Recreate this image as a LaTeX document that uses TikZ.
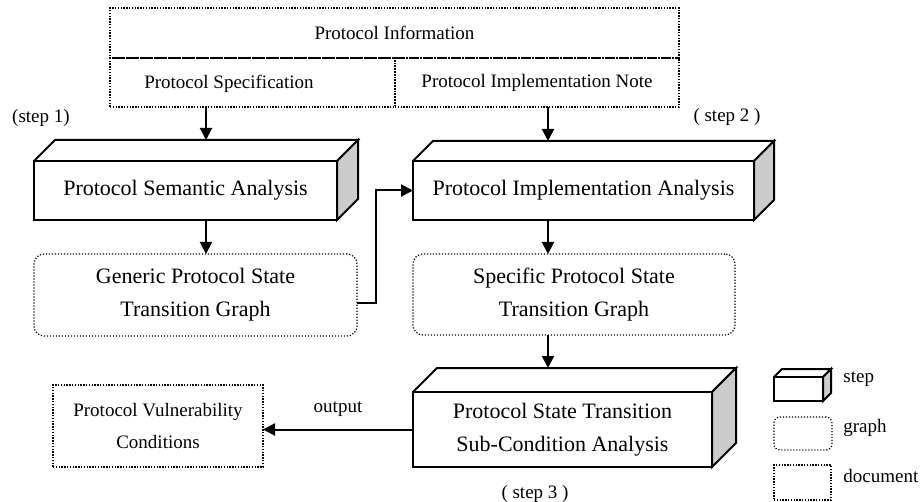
\documentclass[tikz,border=0pt]{standalone}
\usepackage{fontspec}
\setmainfont{Liberation Serif}
\usetikzlibrary{arrows.meta}

% top and side faces of a step box
\newcommand\boxfaces[2]{%
	\draw[boxline] (#1.north west) -- ([shift={(#2,-#2)}]#1.north west)
		-- ([shift={(#2,-#2)}]#1.north east) -- (#1.north east);
	\filldraw[boxline, fill=black!20] (#1.north east) -- ([shift={(#2,-#2)}]#1.north east)
		-- ([shift={(#2,-#2)}]#1.south east) -- (#1.south east) -- cycle;
	\coordinate (#1 top) at ([shift={(#2,-#2)}]#1.north);
}

\begin{document}
\begin{tikzpicture} [x=0.5pt, y=-0.5pt,
	boxline/.style={line width=1pt, line join=miter},
	stepbox/.style={draw, boxline, fill=white, inner sep=0pt, outer sep=0pt,
		align=center, font=\fontsize{11}{16.5}\selectfont},
	graphbox/.style={draw, line width=0.6pt, dash pattern=on 0.6pt off 0.9pt, rounded corners=5pt,
		inner sep=0pt, outer sep=0pt, align=center, font=\fontsize{11}{16.5}\selectfont},
	docbox/.style={draw, line width=0.7pt, dash pattern=on 0.7pt off 0.7pt, inner sep=0pt, outer sep=0pt,
		align=center, font=\fontsize{9.5}{16}\selectfont},
	steplabel/.style={inner sep=0pt, font=\fontsize{9.5}{12}\selectfont},
	flow/.style={line width=1pt, -{Triangle[length=6pt, width=6pt]}}]
	\useasboundingbox (0,0) rectangle (921,502);
	
	% protocol information
	\node[docbox, minimum width=284.5pt, minimum height=25pt] (info) at (394.5,33) {Protocol Information};
	\node[docbox, minimum width=142.5pt, minimum height=24.5pt] (spec) at (252.5,82.5) {};
	\node[steplabel] (spectext) at (229,84) {Protocol Specification};
	\node[docbox, minimum width=142pt, minimum height=24.5pt] (note) at (537,82.5) {Protocol Implementation Note};
	
	% steps
	\node[stepbox, minimum width=151.5pt, minimum height=29.5pt] (sem) at (185.5,190.5) {Protocol Semantic Analysis};
	\boxfaces{sem}{21}
	\node[stepbox, minimum width=170.5pt, minimum height=29.5pt] (impl) at (583.5,190.5) {Protocol Implementation Analysis};
	\boxfaces{impl}{20}
	\node[stepbox, minimum width=149.5pt, minimum height=37.5pt] (sub) at (562.5,429.5) {Protocol State Transition\\Sub-Condition Analysis};
	\boxfaces{sub}{24}
	
	\node[steplabel] (step1) at (41,118) {(step 1)};
	\node[steplabel] (step2) at (727,117) {( step 2 )};
	\node[steplabel] (step3) at (535,494) {( step 3 )};
	
	% graphs
	\node[graphbox, minimum width=161.5pt, minimum height=41pt] (gen) at (195.5,295) {Generic Protocol State\\Transition Graph};
	\node[graphbox, minimum width=161pt, minimum height=40.5pt] (spg) at (574,294.5) {Specific Protocol State\\Transition Graph};
	
	\node[docbox, minimum width=105pt, minimum height=41pt] (vuln) at (158,426) {Protocol Vulnerability\\Conditions};
	
	% connectors
	\coordinate (c1) at (206,0);
	\coordinate (c2) at (548,0);
	\draw[flow] (spec.south -| c1) -- (sem top -| c1);
	\draw[flow] (note.south -| c2) -- (impl top -| c2);
	\draw[flow] (sem.south -| c1) -- (gen.north -| c1);
	\draw[flow] (impl.south -| c2) -- (spg.north -| c2);
	\draw[flow] (spg.south -| c2) -- (sub top -| c2);
	\draw[flow] ([yshift=-4pt]gen.east) -- ++(19,0) |- (impl.west);
	\draw[flow] (sub.west) -- (sub.west -| vuln.east) node[midway, above=6pt, steplabel] (out) {output};
	
	% legend
	\node[stepbox, minimum width=24.5pt, minimum height=12pt] (legstep) at (798.5,389) {};
	\boxfaces{legstep}{8}
	\node[graphbox, minimum width=29pt, minimum height=16.5pt, rounded corners=3pt] (leggraph) at (803,433.5) {};
	\node[docbox, minimum width=28.5pt, minimum height=17.5pt] (legdoc) at (802.5,482.5) {};
	\node[steplabel, anchor=base west] (legsteptext) at (843,382) {step};
	\node[steplabel, anchor=base west] (leggraphtext) at (843,432) {graph};
	\node[steplabel, anchor=base west] (legdoctext) at (843,482) {document};
\end{tikzpicture}
\end{document}
